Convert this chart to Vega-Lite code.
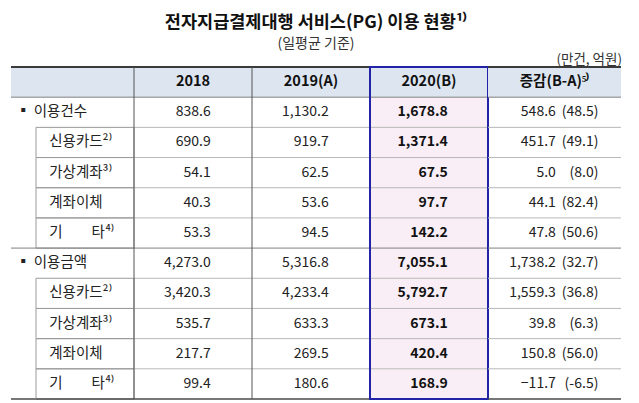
{
  "$schema": "https://vega.github.io/schema/vega-lite/v6.json",
  "background": "white",
  "padding": {"left": 10, "top": 14, "right": 19, "bottom": 3},
  "bounds": "flush",
  "spacing": 0,
  "title": {
    "text": "전자지급결제대행 서비스(PG) 이용 현황¹⁾",
    "subtitle": "(일평균 기준)",
    "anchor": "middle",
    "font": "Noto Sans CJK KR",
    "fontSize": 17.5,
    "fontWeight": "bold",
    "color": "#111111",
    "subtitleFont": "Noto Sans CJK KR",
    "subtitleFontSize": 14,
    "subtitleColor": "#333333",
    "subtitlePadding": 5,
    "offset": 2
  },
  "config": {
    "view": {"stroke": null},
    "font": "Noto Sans CJK KR",
    "text": {"font": "Noto Sans CJK KR"}
  },
  "datasets": {
    "rows": [
      {"r": 0, "level": "header"},
      {"r": 1, "level": "group"},
      {"r": 2, "level": "item"},
      {"r": 3, "level": "item"},
      {"r": 4, "level": "item"},
      {"r": 5, "level": "item"},
      {"r": 6, "level": "group"},
      {"r": 7, "level": "item"},
      {"r": 8, "level": "item"},
      {"r": 9, "level": "item"},
      {"r": 10, "level": "item"}
    ],
    "cells": [
      {"r": 0, "col": "구분", "text": ""},
      {"r": 0, "col": "항목", "text": ""},
      {"r": 0, "col": "2018", "text": "2018"},
      {"r": 0, "col": "2019", "text": "2019(A)"},
      {"r": 0, "col": "2020", "text": "2020(B)"},
      {"r": 0, "col": "증감", "text": "증감(B-A)⁵⁾"},
      {"r": 1, "col": "구분", "text": "▪ 이용건수"},
      {"r": 2, "col": "항목", "text": "신용카드²⁾"},
      {"r": 3, "col": "항목", "text": "가상계좌³⁾"},
      {"r": 4, "col": "항목", "text": "계좌이체"},
      {"r": 5, "col": "항목", "text": "기　　타⁴⁾"},
      {"r": 6, "col": "구분", "text": "▪ 이용금액"},
      {"r": 7, "col": "항목", "text": "신용카드²⁾"},
      {"r": 8, "col": "항목", "text": "가상계좌³⁾"},
      {"r": 9, "col": "항목", "text": "계좌이체"},
      {"r": 10, "col": "항목", "text": "기　　타⁴⁾"},
      {"r": 1, "col": "2018", "value": 838.6},
      {"r": 1, "col": "2019", "value": 1130.2},
      {"r": 1, "col": "2020", "value": 1678.8},
      {"r": 1, "col": "증감", "value": 548.6, "rate": "(48.5)"},
      {"r": 2, "col": "2018", "value": 690.9},
      {"r": 2, "col": "2019", "value": 919.7},
      {"r": 2, "col": "2020", "value": 1371.4},
      {"r": 2, "col": "증감", "value": 451.7, "rate": "(49.1)"},
      {"r": 3, "col": "2018", "value": 54.1},
      {"r": 3, "col": "2019", "value": 62.5},
      {"r": 3, "col": "2020", "value": 67.5},
      {"r": 3, "col": "증감", "value": 5.0, "rate": "(8.0)"},
      {"r": 4, "col": "2018", "value": 40.3},
      {"r": 4, "col": "2019", "value": 53.6},
      {"r": 4, "col": "2020", "value": 97.7},
      {"r": 4, "col": "증감", "value": 44.1, "rate": "(82.4)"},
      {"r": 5, "col": "2018", "value": 53.3},
      {"r": 5, "col": "2019", "value": 94.5},
      {"r": 5, "col": "2020", "value": 142.2},
      {"r": 5, "col": "증감", "value": 47.8, "rate": "(50.6)"},
      {"r": 6, "col": "2018", "value": 4273.0},
      {"r": 6, "col": "2019", "value": 5316.8},
      {"r": 6, "col": "2020", "value": 7055.1},
      {"r": 6, "col": "증감", "value": 1738.2, "rate": "(32.7)"},
      {"r": 7, "col": "2018", "value": 3420.3},
      {"r": 7, "col": "2019", "value": 4233.4},
      {"r": 7, "col": "2020", "value": 5792.7},
      {"r": 7, "col": "증감", "value": 1559.3, "rate": "(36.8)"},
      {"r": 8, "col": "2018", "value": 535.7},
      {"r": 8, "col": "2019", "value": 633.3},
      {"r": 8, "col": "2020", "value": 673.1},
      {"r": 8, "col": "증감", "value": 39.8, "rate": "(6.3)"},
      {"r": 9, "col": "2018", "value": 217.7},
      {"r": 9, "col": "2019", "value": 269.5},
      {"r": 9, "col": "2020", "value": 420.4},
      {"r": 9, "col": "증감", "value": 150.8, "rate": "(56.0)"},
      {"r": 10, "col": "2018", "value": 99.4},
      {"r": 10, "col": "2019", "value": 180.6},
      {"r": 10, "col": "2020", "value": 168.9},
      {"r": 10, "col": "증감", "value": -11.7, "rate": "(-6.5)"}
    ]
  },
  "hconcat": [
    {
      "width": 25, "height": 332,
      "layer": [
        {"data": {"name": "cells"}, "transform": [{"filter": "datum.col === '구분' && datum.r === 0"}],
         "mark": {"type": "rect", "fill": "#dde6f0"},
         "encoding": {"x": {"field": "col", "type": "nominal", "axis": null, "scale": {"paddingInner": 0, "paddingOuter": 0}},
                      "y": {"field": "r", "type": "ordinal", "axis": null, "scale": {"domain": [0,1,2,3,4,5,6,7,8,9,10], "paddingInner": 0, "paddingOuter": 0}}}},
        {"data": {"name": "rows"}, "transform": [{"filter": "datum.level === 'group'"}],
         "mark": {"type": "rule", "color": "#808080", "strokeWidth": 1},
         "encoding": {"y": {"field": "r", "type": "ordinal", "bandPosition": 0, "axis": null}}},
        {"data": {"name": "rows"}, "transform": [{"filter": "datum.r === 0"}],
         "mark": {"type": "rule", "color": "#3a3a3a", "strokeWidth": 2},
         "encoding": {"y": {"field": "r", "type": "ordinal", "bandPosition": 0, "axis": null}}},
        {"data": {"name": "rows"}, "transform": [{"filter": "datum.r === 10"}],
         "mark": {"type": "rule", "color": "#4a4a4a", "strokeWidth": 1.5},
         "encoding": {"y": {"field": "r", "type": "ordinal", "bandPosition": 1, "axis": null}}},
        {"data": {"name": "cells"}, "transform": [{"filter": "datum.col === '구분' && datum.r > 0"}],
         "mark": {"type": "text", "align": "left", "baseline": "middle", "fontSize": 14.5, "color": "#222222"},
         "encoding": {"x": {"field": "col", "type": "nominal", "bandPosition": 0.2, "axis": null},
                      "y": {"field": "r", "type": "ordinal", "axis": null},
                      "text": {"field": "text"}}}
      ]
    },
    {
      "width": 98, "height": 332,
      "layer": [
        {"data": {"name": "cells"}, "transform": [{"filter": "datum.col === '항목' && datum.r === 0"}],
         "mark": {"type": "rect", "fill": "#dde6f0"},
         "encoding": {"x": {"field": "col", "type": "nominal", "axis": null, "scale": {"paddingInner": 0, "paddingOuter": 0}},
                      "y": {"field": "r", "type": "ordinal", "axis": null, "scale": {"domain": [0,1,2,3,4,5,6,7,8,9,10], "paddingInner": 0, "paddingOuter": 0}}}},
        {"data": {"name": "cells"}, "transform": [{"filter": "datum.col === '항목' && datum.r > 0"}],
         "mark": {"type": "rect", "filled": false, "stroke": "#9a9a9a", "strokeWidth": 1},
         "encoding": {"x": {"field": "col", "type": "nominal", "axis": null},
                      "y": {"field": "r", "type": "ordinal", "axis": null}}},
        {"data": {"name": "rows"}, "transform": [{"filter": "datum.level === 'group'"}],
         "mark": {"type": "rule", "color": "#808080", "strokeWidth": 1},
         "encoding": {"y": {"field": "r", "type": "ordinal", "bandPosition": 0, "axis": null}}},
        {"data": {"name": "rows"}, "transform": [{"filter": "datum.r === 0"}],
         "mark": {"type": "rule", "color": "#3a3a3a", "strokeWidth": 2},
         "encoding": {"y": {"field": "r", "type": "ordinal", "bandPosition": 0, "axis": null}}},
        {"data": {"name": "rows"}, "transform": [{"filter": "datum.r === 10"}],
         "mark": {"type": "rule", "color": "#4a4a4a", "strokeWidth": 1.5},
         "encoding": {"y": {"field": "r", "type": "ordinal", "bandPosition": 1, "axis": null}}},
        {"data": {"name": "cells"}, "transform": [{"filter": "datum.col === '항목' && datum.r > 0"}],
         "mark": {"type": "text", "align": "left", "baseline": "middle", "fontSize": 14.5, "color": "#222222"},
         "encoding": {"x": {"field": "col", "type": "nominal", "bandPosition": 0.135, "axis": null},
                      "y": {"field": "r", "type": "ordinal", "axis": null},
                      "text": {"field": "text"}}}
      ]
    },
    {
      "width": 118, "height": 332,
      "layer": [
        {"data": {"name": "cells"}, "transform": [{"filter": "datum.col === '2018' && datum.r === 0"}],
         "mark": {"type": "rect", "fill": "#dde6f0"},
         "encoding": {"x": {"field": "col", "type": "nominal", "axis": null, "scale": {"paddingInner": 0, "paddingOuter": 0}},
                      "y": {"field": "r", "type": "ordinal", "axis": null, "scale": {"domain": [0,1,2,3,4,5,6,7,8,9,10], "paddingInner": 0, "paddingOuter": 0}}}},
        {"data": {"name": "rows"}, "transform": [{"filter": "datum.level === 'item'"}],
         "mark": {"type": "rule", "color": "#b8b8b8", "strokeWidth": 1},
         "encoding": {"y": {"field": "r", "type": "ordinal", "bandPosition": 0, "axis": null}}},
        {"data": {"name": "rows"}, "transform": [{"filter": "datum.level === 'group'"}],
         "mark": {"type": "rule", "color": "#808080", "strokeWidth": 1},
         "encoding": {"y": {"field": "r", "type": "ordinal", "bandPosition": 0, "axis": null}}},
        {"data": {"name": "rows"}, "transform": [{"filter": "datum.r === 0"}],
         "mark": {"type": "rule", "color": "#3a3a3a", "strokeWidth": 2},
         "encoding": {"y": {"field": "r", "type": "ordinal", "bandPosition": 0, "axis": null}}},
        {"data": {"name": "rows"}, "transform": [{"filter": "datum.r === 10"}],
         "mark": {"type": "rule", "color": "#4a4a4a", "strokeWidth": 1.5},
         "encoding": {"y": {"field": "r", "type": "ordinal", "bandPosition": 1, "axis": null}}},
        {"data": {"name": "cells"}, "transform": [{"filter": "datum.col === '2018' && datum.r === 0"}],
         "mark": {"type": "rule", "color": "#555555", "strokeWidth": 1},
         "encoding": {"x": {"field": "col", "type": "nominal", "bandPosition": 0, "axis": null}}},
        {"data": {"name": "cells"}, "transform": [{"filter": "datum.col === '2018' && datum.r === 0"}],
         "mark": {"type": "text", "align": "center", "baseline": "middle", "fontSize": 14.5, "fontWeight": "bold", "color": "#111111"},
         "encoding": {"x": {"field": "col", "type": "nominal", "bandPosition": 0.5, "axis": null},
                      "y": {"field": "r", "type": "ordinal", "axis": null},
                      "text": {"field": "text"}}},
        {"data": {"name": "cells"}, "transform": [{"filter": "datum.col === '2018' && datum.r > 0"}],
         "mark": {"type": "text", "align": "right", "baseline": "middle", "fontSize": 14, "color": "#222222"},
         "encoding": {"x": {"field": "col", "type": "nominal", "bandPosition": 0.65, "axis": null},
                      "y": {"field": "r", "type": "ordinal", "axis": null},
                      "text": {"field": "value", "type": "quantitative", "format": ",.1f"}}}
      ]
    },
    {
      "width": 118, "height": 332,
      "layer": [
        {"data": {"name": "cells"}, "transform": [{"filter": "datum.col === '2019' && datum.r === 0"}],
         "mark": {"type": "rect", "fill": "#dde6f0"},
         "encoding": {"x": {"field": "col", "type": "nominal", "axis": null, "scale": {"paddingInner": 0, "paddingOuter": 0}},
                      "y": {"field": "r", "type": "ordinal", "axis": null, "scale": {"domain": [0,1,2,3,4,5,6,7,8,9,10], "paddingInner": 0, "paddingOuter": 0}}}},
        {"data": {"name": "rows"}, "transform": [{"filter": "datum.level === 'item'"}],
         "mark": {"type": "rule", "color": "#b8b8b8", "strokeWidth": 1},
         "encoding": {"y": {"field": "r", "type": "ordinal", "bandPosition": 0, "axis": null}}},
        {"data": {"name": "rows"}, "transform": [{"filter": "datum.level === 'group'"}],
         "mark": {"type": "rule", "color": "#808080", "strokeWidth": 1},
         "encoding": {"y": {"field": "r", "type": "ordinal", "bandPosition": 0, "axis": null}}},
        {"data": {"name": "rows"}, "transform": [{"filter": "datum.r === 0"}],
         "mark": {"type": "rule", "color": "#3a3a3a", "strokeWidth": 2},
         "encoding": {"y": {"field": "r", "type": "ordinal", "bandPosition": 0, "axis": null}}},
        {"data": {"name": "rows"}, "transform": [{"filter": "datum.r === 10"}],
         "mark": {"type": "rule", "color": "#4a4a4a", "strokeWidth": 1.5},
         "encoding": {"y": {"field": "r", "type": "ordinal", "bandPosition": 1, "axis": null}}},
        {"data": {"name": "cells"}, "transform": [{"filter": "datum.col === '2019' && datum.r === 0"}],
         "mark": {"type": "rule", "color": "#555555", "strokeWidth": 1},
         "encoding": {"x": {"field": "col", "type": "nominal", "bandPosition": 0, "axis": null}}},
        {"data": {"name": "cells"}, "transform": [{"filter": "datum.col === '2019' && datum.r === 0"}],
         "mark": {"type": "text", "align": "center", "baseline": "middle", "fontSize": 14.5, "fontWeight": "bold", "color": "#111111"},
         "encoding": {"x": {"field": "col", "type": "nominal", "bandPosition": 0.5, "axis": null},
                      "y": {"field": "r", "type": "ordinal", "axis": null},
                      "text": {"field": "text"}}},
        {"data": {"name": "cells"}, "transform": [{"filter": "datum.col === '2019' && datum.r > 0"}],
         "mark": {"type": "text", "align": "right", "baseline": "middle", "fontSize": 14, "color": "#222222"},
         "encoding": {"x": {"field": "col", "type": "nominal", "bandPosition": 0.65, "axis": null},
                      "y": {"field": "r", "type": "ordinal", "axis": null},
                      "text": {"field": "value", "type": "quantitative", "format": ",.1f"}}}
      ]
    },
    {
      "width": 118, "height": 332,
      "layer": [
        {"data": {"name": "cells"}, "transform": [{"filter": "datum.col === '2020' && datum.r === 0"}],
         "mark": {"type": "rect", "fill": "#dde6f0"},
         "encoding": {"x": {"field": "col", "type": "nominal", "axis": null, "scale": {"paddingInner": 0, "paddingOuter": 0}},
                      "y": {"field": "r", "type": "ordinal", "axis": null, "scale": {"domain": [0,1,2,3,4,5,6,7,8,9,10], "paddingInner": 0, "paddingOuter": 0}}}},
        {"data": {"name": "cells"}, "transform": [{"filter": "datum.col === '2020' && datum.r > 0"}],
         "mark": {"type": "rect", "fill": "#f9eef5"},
         "encoding": {"x": {"field": "col", "type": "nominal", "axis": null},
                      "y": {"field": "r", "type": "ordinal", "axis": null}}},
        {"data": {"name": "rows"}, "transform": [{"filter": "datum.level === 'item'"}],
         "mark": {"type": "rule", "color": "#b8b8b8", "strokeWidth": 1},
         "encoding": {"y": {"field": "r", "type": "ordinal", "bandPosition": 0, "axis": null}}},
        {"data": {"name": "rows"}, "transform": [{"filter": "datum.level === 'group'"}],
         "mark": {"type": "rule", "color": "#808080", "strokeWidth": 1},
         "encoding": {"y": {"field": "r", "type": "ordinal", "bandPosition": 0, "axis": null}}},
        {"data": {"name": "rows"}, "transform": [{"filter": "datum.r === 0"}],
         "mark": {"type": "rule", "color": "#3a3a3a", "strokeWidth": 2},
         "encoding": {"y": {"field": "r", "type": "ordinal", "bandPosition": 0, "axis": null}}},
        {"data": {"name": "rows"}, "transform": [{"filter": "datum.r === 10"}],
         "mark": {"type": "rule", "color": "#4a4a4a", "strokeWidth": 1.5},
         "encoding": {"y": {"field": "r", "type": "ordinal", "bandPosition": 1, "axis": null}}},
        {"data": {"name": "cells"}, "transform": [{"filter": "datum.col === '2020' && datum.r === 0"}],
         "mark": {"type": "rect", "filled": false, "stroke": "#2323a8", "strokeWidth": 2},
         "encoding": {"x": {"field": "col", "type": "nominal", "axis": null}}},
        {"data": {"name": "cells"}, "transform": [{"filter": "datum.col === '2020' && datum.r === 0"}],
         "mark": {"type": "text", "align": "center", "baseline": "middle", "fontSize": 14.5, "fontWeight": "bold", "color": "#111111"},
         "encoding": {"x": {"field": "col", "type": "nominal", "bandPosition": 0.5, "axis": null},
                      "y": {"field": "r", "type": "ordinal", "axis": null},
                      "text": {"field": "text"}}},
        {"data": {"name": "cells"}, "transform": [{"filter": "datum.col === '2020' && datum.r > 0"}],
         "mark": {"type": "text", "align": "right", "baseline": "middle", "fontSize": 14, "fontWeight": "bold", "color": "#111111"},
         "encoding": {"x": {"field": "col", "type": "nominal", "bandPosition": 0.66, "axis": null},
                      "y": {"field": "r", "type": "ordinal", "axis": null},
                      "text": {"field": "value", "type": "quantitative", "format": ",.1f"}}}
      ]
    },
    {
      "width": 133, "height": 332,
      "title": {"text": "(만건, 억원)", "anchor": "end", "font": "Noto Sans CJK KR", "fontSize": 13.5, "fontWeight": "normal", "color": "#333333", "offset": 0},
      "layer": [
        {"data": {"name": "cells"}, "transform": [{"filter": "datum.col === '증감' && datum.r === 0"}],
         "mark": {"type": "rect", "fill": "#dde6f0"},
         "encoding": {"x": {"field": "col", "type": "nominal", "axis": null, "scale": {"paddingInner": 0, "paddingOuter": 0}},
                      "y": {"field": "r", "type": "ordinal", "axis": null, "scale": {"domain": [0,1,2,3,4,5,6,7,8,9,10], "paddingInner": 0, "paddingOuter": 0}}}},
        {"data": {"name": "rows"}, "transform": [{"filter": "datum.level === 'item'"}],
         "mark": {"type": "rule", "color": "#b8b8b8", "strokeWidth": 1},
         "encoding": {"y": {"field": "r", "type": "ordinal", "bandPosition": 0, "axis": null}}},
        {"data": {"name": "rows"}, "transform": [{"filter": "datum.level === 'group'"}],
         "mark": {"type": "rule", "color": "#808080", "strokeWidth": 1},
         "encoding": {"y": {"field": "r", "type": "ordinal", "bandPosition": 0, "axis": null}}},
        {"data": {"name": "rows"}, "transform": [{"filter": "datum.r === 0"}],
         "mark": {"type": "rule", "color": "#3a3a3a", "strokeWidth": 2},
         "encoding": {"y": {"field": "r", "type": "ordinal", "bandPosition": 0, "axis": null}}},
        {"data": {"name": "rows"}, "transform": [{"filter": "datum.r === 10"}],
         "mark": {"type": "rule", "color": "#4a4a4a", "strokeWidth": 1.5},
         "encoding": {"y": {"field": "r", "type": "ordinal", "bandPosition": 1, "axis": null}}},
        {"data": {"name": "cells"}, "transform": [{"filter": "datum.col === '증감' && datum.r === 0"}],
         "mark": {"type": "text", "align": "center", "baseline": "middle", "fontSize": 14.5, "fontWeight": "bold", "color": "#111111"},
         "encoding": {"x": {"field": "col", "type": "nominal", "bandPosition": 0.5, "axis": null},
                      "y": {"field": "r", "type": "ordinal", "axis": null},
                      "text": {"field": "text"}}},
        {"data": {"name": "cells"}, "transform": [{"filter": "datum.col === '증감' && datum.r > 0"}],
         "mark": {"type": "text", "align": "right", "baseline": "middle", "fontSize": 14, "color": "#222222"},
         "encoding": {"x": {"field": "col", "type": "nominal", "bandPosition": 0.51, "axis": null},
                      "y": {"field": "r", "type": "ordinal", "axis": null},
                      "text": {"field": "value", "type": "quantitative", "format": ",.1f"}}},
        {"data": {"name": "cells"}, "transform": [{"filter": "datum.col === '증감' && datum.r > 0"}],
         "mark": {"type": "text", "align": "right", "baseline": "middle", "fontSize": 14, "color": "#222222"},
         "encoding": {"x": {"field": "col", "type": "nominal", "bandPosition": 0.83, "axis": null},
                      "y": {"field": "r", "type": "ordinal", "axis": null},
                      "text": {"field": "rate"}}}
      ]
    }
  ]
}
